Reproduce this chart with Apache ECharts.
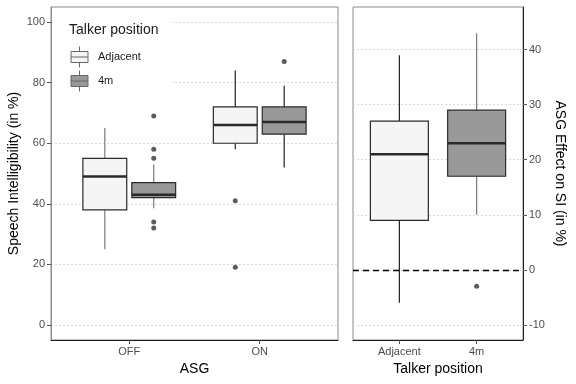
<!DOCTYPE html>
<html><head><meta charset="utf-8">
<script src="https://cdn.jsdelivr.net/npm/echarts@6/dist/echarts.min.js"></script>
<style>html,body{margin:0;padding:0;background:#fff}#c{width:576px;height:384px}</style>
</head><body><div id="c"></div>
<script>
// ---- data ----
const asgCategories = ['OFF', 'ON'];
const talkerCategories = ['Adjacent', '4m'];
// box stats per ASG category: [min, Q1, median, Q3, max]
const siAdjacent = [[25, 38, 49, 55, 65], [58, 60, 66, 72, 84]];
const si4m = [[38.5, 42, 43, 47, 53], [52, 63, 67, 72, 79]];
// outliers: [category position (1-based), value]
const siAdjacentOutliers = [[2, 41], [2, 19]];
const si4mOutliers = [[1, 69], [1, 58], [1, 55], [1, 34], [1, 32], [2, 87]];
// ASG effect per talker position: [min, Q1, median, Q3, max]
const effectBoxes = [[-6, 9, 21, 27, 39], [10, 17, 23, 29, 43]];
const effectOutliers = [[2, -3]];
const siTicks = [0, 20, 40, 60, 80, 100];
const effectTicks = [-10, 0, 10, 20, 30, 40];

// ---- styles ----
const FONT = "'Liberation Sans', Arial, sans-serif";
const FILL_ADJ = '#f5f5f5', FILL_4M = '#999999';
const DODGE = 0.1875;
const BOX_HALF_LEFT = 0.168, BOX_HALF_RIGHT = 0.375;
const WH_GREY = '#7a7a7a', WH_DARK = '#1f1f1f';

function boxRenderer(offset, halfW, whiskerColors, fills) {
  return function (params, api) {
    const x = api.value(0) + offset;
    const lo = api.coord([x, api.value(1)]);
    const q1 = api.coord([x, api.value(2)]);
    const md = api.coord([x, api.value(3)]);
    const q3 = api.coord([x, api.value(4)]);
    const hi = api.coord([x, api.value(5)]);
    const l = api.coord([x - halfW, api.value(3)])[0];
    const r = api.coord([x + halfW, api.value(3)])[0];
    const wc = whiskerColors[params.dataIndex];
    const fill = fills ? fills[params.dataIndex] : api.visual('color');
    return {
      type: 'group', children: [
        {type: 'line', shape: {x1: lo[0], y1: lo[1], x2: q1[0], y2: q1[1]}, style: {stroke: wc, lineWidth: 1.2}},
        {type: 'line', shape: {x1: q3[0], y1: q3[1], x2: hi[0], y2: hi[1]}, style: {stroke: wc, lineWidth: 1.2}},
        {type: 'rect', shape: {x: l, y: q3[1], width: r - l, height: q1[1] - q3[1]},
          style: {fill: fill, stroke: '#2a2a2a', lineWidth: 1.2}},
        {type: 'line', shape: {x1: l, y1: md[1], x2: r, y2: md[1]}, style: {stroke: '#2a2a2a', lineWidth: 2.6}}
      ]
    };
  };
}
const withPos = arr => arr.map((b, i) => [i + 1].concat(b));
const shift = (arr, off) => arr.map(p => [p[0] + off, p[1]]);

const tickLabelStyle = {color: '#4d4d4d', fontSize: 11, fontFamily: FONT};
const nameStyle = {color: '#000', fontSize: 14, fontFamily: FONT};
const gridLine = {show: true, lineStyle: {color: '#dadada', type: [2, 2], width: 1}};

const chart = echarts.init(document.getElementById('c'), null, {renderer: 'canvas'});
chart.setOption({
  animation: false,
  backgroundColor: '#fff',
  textStyle: {fontFamily: FONT},
  title: {text: 'Talker position', left: 69, top: 23, padding: 0, z: 10,
    textStyle: {fontSize: 14, fontWeight: 'normal', color: '#1a1a1a', fontFamily: FONT}},
  legend: {
    data: ['Adjacent', '4m'], orient: 'vertical', left: 70.5, top: 46, padding: 0, z: 10,
    itemWidth: 17, itemHeight: 21, itemGap: 2, selectedMode: false,
    icon: 'path://M8.5,0V5M8.5,16V21M0,5H17V16H0ZM0,10.5H17',
    itemStyle: {borderColor: '#666', borderWidth: 1},
    textStyle: {fontSize: 11, color: '#1a1a1a', fontFamily: FONT, padding: [0, 0, 0, 5]}
  },
  graphic: [{type: 'rect', z: 5, shape: {x: 55, y: 13, width: 117, height: 78}, style: {fill: '#fff'}}],
  grid: [
    {left: 51, right: 238, top: 7, bottom: 44, show: true, borderColor: '#8a8a8a', borderWidth: 1},
    {left: 353, right: 53, top: 7, bottom: 44, show: true, borderColor: '#8a8a8a', borderWidth: 1}
  ],
  xAxis: [
    {type: 'value', gridIndex: 0, min: 0.4, max: 2.6, splitLine: {show: false},
      axisLine: {show: true, onZero: false, lineStyle: {color: '#1a1a1a', width: 1}},
      axisTick: {show: true, length: 4, customValues: [1, 2], lineStyle: {color: '#555'}},
      axisLabel: Object.assign({customValues: [1, 2], margin: 6, formatter: v => asgCategories[Math.round(v) - 1] || ''}, tickLabelStyle),
      name: 'ASG', nameLocation: 'middle', nameGap: 21, nameTextStyle: nameStyle},
    {type: 'value', gridIndex: 1, min: 0.4, max: 2.6, splitLine: {show: false},
      axisLine: {show: true, onZero: false, lineStyle: {color: '#1a1a1a', width: 1}},
      axisTick: {show: true, length: 4, customValues: [1, 2], lineStyle: {color: '#555'}},
      axisLabel: Object.assign({customValues: [1, 2], margin: 6, formatter: v => talkerCategories[Math.round(v) - 1] || ''}, tickLabelStyle),
      name: 'Talker position', nameLocation: 'middle', nameGap: 21, nameTextStyle: nameStyle}
  ],
  yAxis: [
    {type: 'value', gridIndex: 0, min: -5, max: 105,
      axisLine: {show: true, onZero: false, lineStyle: {color: '#8a8a8a'}},
      axisTick: {show: true, length: 4, customValues: siTicks, lineStyle: {color: '#555'}},
      axisLabel: Object.assign({customValues: siTicks, margin: 6}, tickLabelStyle),
      splitLine: gridLine,
      name: 'Speech Intelligibility (in %)', nameLocation: 'middle', nameGap: 30, nameTextStyle: nameStyle},
    {type: 'value', gridIndex: 1, position: 'right', min: -12.75, max: 47.75,
      axisLine: {show: true, onZero: false, lineStyle: {color: '#1a1a1a'}},
      axisTick: {show: true, length: 4, customValues: effectTicks, lineStyle: {color: '#555'}},
      axisLabel: Object.assign({customValues: effectTicks, margin: 6}, tickLabelStyle),
      splitLine: gridLine,
      name: 'ASG Effect on SI (in %)', nameLocation: 'middle', nameGap: 30, nameRotate: -90, nameTextStyle: nameStyle}
  ],
  series: [
    {name: 'Adjacent', type: 'custom', xAxisIndex: 0, yAxisIndex: 0, itemStyle: {color: FILL_ADJ},
      renderItem: boxRenderer(-DODGE, BOX_HALF_LEFT, [WH_GREY, WH_DARK]),
      encode: {x: 0, y: [1, 2, 3, 4, 5]}, data: withPos(siAdjacent), z: 3},
    {name: '4m', type: 'custom', xAxisIndex: 0, yAxisIndex: 0, itemStyle: {color: FILL_4M},
      renderItem: boxRenderer(DODGE, BOX_HALF_LEFT, [WH_GREY, WH_DARK]),
      encode: {x: 0, y: [1, 2, 3, 4, 5]}, data: withPos(si4m), z: 3},
    {name: 'Adjacent outliers', type: 'scatter', xAxisIndex: 0, yAxisIndex: 0, symbolSize: 5,
      itemStyle: {color: '#333'}, data: shift(siAdjacentOutliers, -DODGE), z: 4},
    {name: '4m outliers', type: 'scatter', xAxisIndex: 0, yAxisIndex: 0, symbolSize: 5,
      itemStyle: {color: '#333'}, data: shift(si4mOutliers, DODGE), z: 4},
    {name: 'Effect', type: 'custom', xAxisIndex: 1, yAxisIndex: 1, itemStyle: {color: FILL_ADJ},
      renderItem: boxRenderer(0, BOX_HALF_RIGHT, [WH_DARK, WH_GREY], [FILL_ADJ, FILL_4M]),
      encode: {x: 0, y: [1, 2, 3, 4, 5]}, data: withPos(effectBoxes), z: 3,
      markLine: {silent: true, symbol: 'none', label: {show: false},
        lineStyle: {color: '#000', type: [6, 4], width: 1.4},
        data: [{yAxis: 0}]}},
    {name: 'Effect outliers', type: 'scatter', xAxisIndex: 1, yAxisIndex: 1, symbolSize: 5,
      itemStyle: {color: '#333'}, data: effectOutliers, z: 4}
  ]
});
</script>
</body></html>
